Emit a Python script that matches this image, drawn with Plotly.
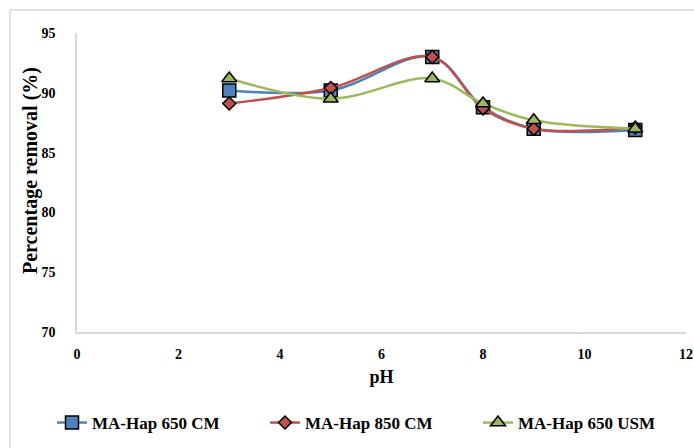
import plotly.graph_objects as go

# pH values tested and removal efficiency (%) for each adsorbent
ph = [3, 5, 7, 8, 9, 11]
hap_650_cm = [90.2, 90.2, 93.0, 88.8, 87.0, 86.9]
hap_850_cm = [89.1, 90.4, 93.0, 88.7, 87.0, 87.1]
hap_650_usm = [91.2, 89.5, 91.2, 89.1, 87.7, 87.0]

x_ticks = [0, 2, 4, 6, 8, 10, 12]
y_ticks = [70, 75, 80, 85, 90, 95]

FONT = "Liberation Serif"

series = [
    ("MA-Hap 650 CM", hap_650_cm, "#4f81bd", "square", 13),
    ("MA-Hap 850 CM", hap_850_cm, "#c0504d", "diamond", 10),
    ("MA-Hap 650 USM", hap_650_usm, "#9bbb59", "triangle-up", 13),
]

fig = go.Figure()
for name, vals, color, symbol, size in series:
    fig.add_trace(go.Scatter(
        x=ph, y=vals, name=name, mode="lines+markers",
        line=dict(color=color, width=2.5, shape="spline", smoothing=1.0),
        marker=dict(symbol=symbol, size=size, color=color,
                    line=dict(color="black", width=1.5)),
    ))

W, H = 694, 448
L, R, T, B = 77, 8, 33, 116
pw, ph_px = W - L - R, H - T - B

def px_x(v):
    return (v - L) / pw

def px_y(v):
    return 1 - (v - T) / ph_px

# outer chart frame (top and left edges visible)
frame = dict(color="#d9d9d9", width=1.5)
fig.add_shape(type="line", xref="paper", yref="paper",
              x0=px_x(10), x1=px_x(W + 2), y0=px_y(10), y1=px_y(10), line=frame)
fig.add_shape(type="line", xref="paper", yref="paper",
              x0=px_x(10), x1=px_x(10), y0=px_y(10), y1=px_y(H + 2), line=frame)

# vertical axis title
fig.add_annotation(
    text="Percentage removal (%)", xref="paper", yref="paper",
    x=px_x(30), y=px_y(171), xanchor="center", yanchor="middle",
    textangle=-90, showarrow=False,
    font=dict(family=FONT, size=20, color="black", weight="bold"),
)

fig.update_layout(
    width=W, height=H,
    margin=dict(l=L, r=R, t=T, b=B, autoexpand=False),
    paper_bgcolor="white", plot_bgcolor="white",
    font=dict(family=FONT, color="black"),
    showlegend=True,
    legend=dict(
        orientation="h", x=px_x(52), xanchor="left",
        y=px_y(423), yanchor="middle",
        font=dict(family=FONT, size=17, color="black", weight="bold"),
        entrywidth=168, entrywidthmode="pixels",
        itemclick=False, bgcolor="rgba(0,0,0,0)",
    ),
    xaxis=dict(
        range=[0, 12], tickvals=x_ticks, ticktext=[str(v) for v in x_ticks],
        showgrid=False, zeroline=False, showline=True,
        linecolor="#d9d9d9", linewidth=1.5, ticks="",
        ticklabelstandoff=8,
        tickfont=dict(family=FONT, size=14, color="black", weight="bold"),
        title=dict(text="pH", standoff=10,
                   font=dict(family=FONT, size=18, color="black", weight="bold")),
    ),
    yaxis=dict(
        range=[70, 95], tickvals=y_ticks, ticktext=[str(v) for v in y_ticks],
        showgrid=False, zeroline=False, showline=True,
        linecolor="#d9d9d9", linewidth=1.5, ticks="",
        ticklabelstandoff=17,
        tickfont=dict(family=FONT, size=14, color="black", weight="bold"),
    ),
)

fig.write_html("out.html")
